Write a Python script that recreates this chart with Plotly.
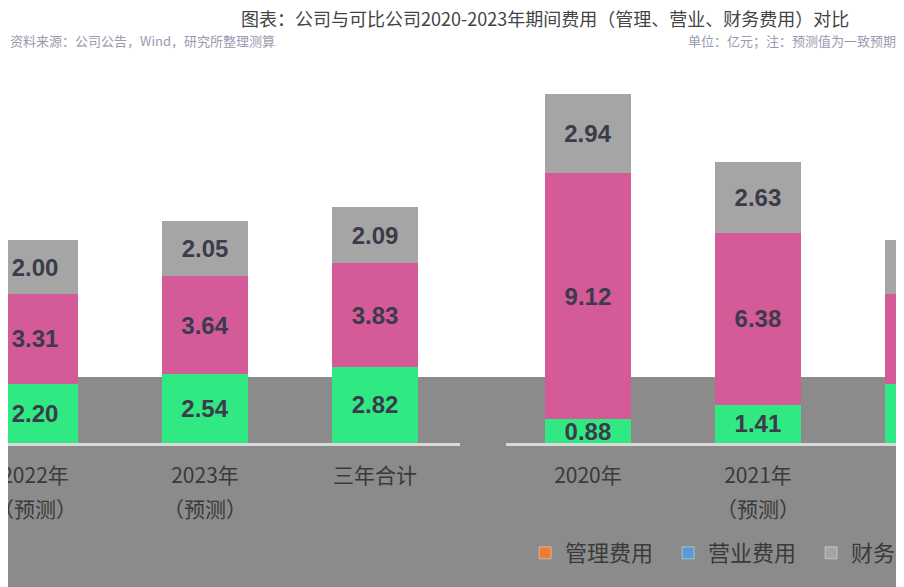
import plotly.graph_objects as go

# ---- data ----
left_cats = ["2022年", "2023年", "三年合计"]
right_cats = ["2020年", "2021年", "2022年"]
left_forecast = [True, True, False]
right_forecast = [False, True, True]

left_mgmt = [2.20, 2.54, 2.82]
left_sales = [3.31, 3.64, 3.83]
left_fin = [2.00, 2.05, 2.09]

right_mgmt = [0.88, 1.41, 2.20]
right_sales = [9.12, 6.38, 3.31]
right_fin = [2.94, 2.63, 2.00]

series_names = ["管理费用", "营业费用", "财务费用"]
bar_colors = ["#31E982", "#D45A98", "#A5A5A5"]
legend_colors = ["#ED7D31", "#5B9BD5", "#A5A5A5"]

forecast_label = "（预测）"
title_text = "图表：公司与可比公司2020-2023年期间费用（管理、营业、财务费用）对比"
source_left = "资料来源：公司公告，Wind，研究所整理测算"
source_right = "单位：亿元；注：预测值为一致预期"

FONT_CJK = "Noto Sans CJK SC"
LABEL_FONT = dict(family="Liberation Sans, Arial", size=24, color="#3B3B4B")
TICK_FONT = dict(family=FONT_CJK, size=21, color="#3A3A3A")

fig = go.Figure()

left_vals = [left_mgmt, left_sales, left_fin]
right_vals = [right_mgmt, right_sales, right_fin]

for i, name in enumerate(series_names):
    fig.add_trace(go.Bar(
        x=left_cats, y=left_vals[i], name=name, marker_color=bar_colors[i],
        marker_line_width=0, width=0.51, showlegend=False,
        text=[f"<b>{v:.2f}</b>" for v in left_vals[i]],
        textposition="inside", insidetextanchor="middle", constraintext="none",
        textfont=LABEL_FONT, xaxis="x", yaxis="y"))
    fig.add_trace(go.Bar(
        x=right_cats, y=right_vals[i], name=name, marker_color=bar_colors[i],
        marker_line_width=0, width=0.51, showlegend=False,
        text=[f"<b>{v:.2f}</b>" for v in right_vals[i]],
        textposition="inside", insidetextanchor="middle", constraintext="none",
        textfont=LABEL_FONT, xaxis="x2", yaxis="y"))

# legend entries
for i, name in enumerate(series_names):
    fig.add_trace(go.Bar(x=[None], y=[None], name=name,
                         marker_color=legend_colors[i], xaxis="x2", yaxis="y"))

axis_common = dict(type="category", showgrid=False, zeroline=False,
                   showline=True, linecolor="#D9D9D9", linewidth=3,
                   ticks="", tickfont=TICK_FONT, ticklabelstandoff=12)

annotations = [
    dict(text=title_text, xref="paper", yref="paper", x=0.594, y=1.124,
         xanchor="center", yanchor="middle", showarrow=False,
         font=dict(family=FONT_CJK, size=18, color="#444444")),
    dict(text=source_left, xref="paper", yref="paper", x=0.0, y=1.064,
         xanchor="left", yanchor="middle", showarrow=False,
         font=dict(family=FONT_CJK, size=13, color="#9A9AB0")),
    dict(text=source_right, xref="paper", yref="paper", x=0.985, y=1.064,
         xanchor="right", yanchor="middle", showarrow=False,
         font=dict(family=FONT_CJK, size=13, color="#9A9AB0")),
]
for cats, flags, xr in [(left_cats, left_forecast, "x"), (right_cats, right_forecast, "x2")]:
    for c, f in zip(cats, flags):
        if f:
            annotations.append(dict(text=forecast_label, xref=xr, yref="paper", x=c,
                                    y=-0.172, xanchor="center", yanchor="middle",
                                    showarrow=False, font=TICK_FONT))

fig.update_layout(
    width=904, height=587,
    margin=dict(l=0, r=0, t=57, b=152, autoexpand=False),
    plot_bgcolor="rgba(0,0,0,0)", paper_bgcolor="white",
    barmode="stack",
    xaxis=dict(domain=[0, 0.5], range=[-0.159, 2.5], anchor="y", **axis_common),
    xaxis2=dict(domain=[0.5509, 1], range=[-0.482, 1.906], anchor="y", **axis_common),
    yaxis=dict(range=[0, 14], visible=False, showgrid=False),
    legend=dict(orientation="h", x=0.572, xanchor="left", y=-0.291, yanchor="middle",
                bgcolor="rgba(0,0,0,0)", font=dict(family=FONT_CJK, size=22, color="#3A3A3A"),
                traceorder="normal", entrywidth=98, entrywidthmode="pixels"),
    showlegend=True,
    shapes=[dict(type="rect", xref="paper", yref="paper", x0=-0.02, x1=1.02,
                 y0=-0.45, y1=0.1746, fillcolor="#8B8B8B", line_width=0, layer="below")],
    annotations=annotations,
)

fig.write_html("out.html")
